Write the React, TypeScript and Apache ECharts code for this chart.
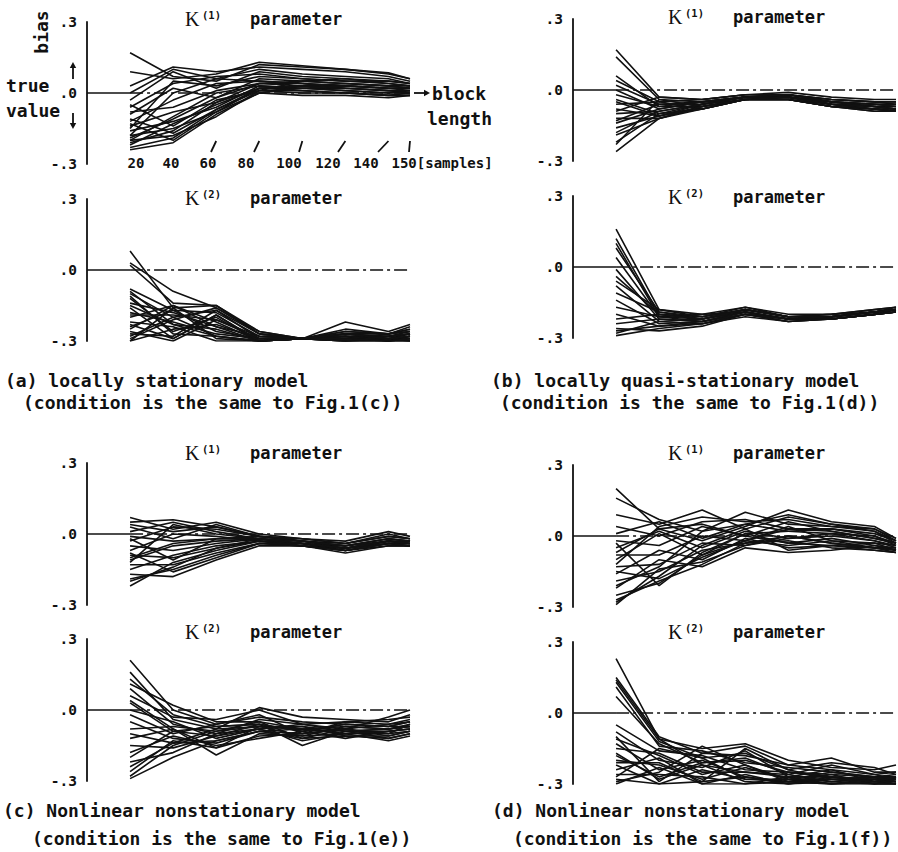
import React, { useEffect, useRef } from "react";
import * as echarts from "echarts";

// block length [samples]
const X_VALUES = [20, 40, 60, 80, 100, 120, 140, 150];
const X_TICK_LABELS = ["20", "40", "60", "80", "100", "120", "140", "150[samples]"];
const Y_TICKS = [-0.3, 0, 0.3];
const Y_TICK_LABELS = ["-.3", ".0", ".3"];

// (a) locally stationary model, K(1)
const A1_LINES = [
  [.17, .07, .05, .12, .11, .10, .08, .06],
  [.09, .06, .08, .13, .115, .10, .085, .06],
  [.03, .11, .09, .11, .10, .09, .07, .05],
  [.00, .10, .06, .10, .08, .07, .06, .04],
  [-.03, .09, .02, .09, .07, .06, .05, .04],
  [-.06, .04, .07, .08, .06, .05, .04, .03],
  [-.09, .02, -.02, .06, .05, .04, .03, .03],
  [-.12, -.03, .04, .05, .04, .03, .02, .02],
  [-.14, -.08, -.04, .04, .03, .03, .02, .01],
  [-.16, -.12, -.06, .03, .02, .02, .01, .01],
  [-.18, -.15, -.08, .02, .02, .01, .00, .00],
  [-.20, -.18, -.10, .01, .01, .00, -.01, .00],
  [-.22, -.13, -.05, .02, .01, .00, -.01, -.01],
  [-.24, -.21, -.09, .00, -.01, -.01, -.02, -.01],
  [-.20, -.10, .00, .03, .02, .01, .00, .01],
  [-.11, -.17, -.07, .02, .03, .04, .03, .02],
  [-.05, -.14, -.03, .01, .05, .06, .04, .03],
  [-.15, .05, .03, .07, .06, .05, .05, .04],
  [-.08, -.06, .01, .04, .04, .03, .02, .02],
  [-.18, .00, .06, .05, .04, .02, .01, .00],
  [-.21, -.16, -.04, .02, .03, .02, .01, .01],
  [-.23, -.19, -.07, .01, .00, .00, -.01, -.01],
  [-.13, -.20, -.08, .00, .02, .03, .02, .02],
  [-.19, -.11, -.02, .04, .05, .04, .03, .02],
];

// (a) K(2)
const A2_LINES = [
  [.08, -.16, -.15, -.26, -.29, -.22, -.26, -.23],
  [.03, -.09, -.16, -.27, -.29, -.25, -.27, -.24],
  [.02, -.14, -.15, -.27, -.29, -.26, -.27, -.25],
  [-.08, -.17, -.18, -.28, -.29, -.27, -.28, -.26],
  [-.10, -.20, -.17, -.29, -.29, -.28, -.28, -.27],
  [-.12, -.26, -.20, -.30, -.29, -.27, -.29, -.28],
  [-.14, -.18, -.24, -.30, -.29, -.28, -.30, -.29],
  [-.16, -.29, -.19, -.30, -.29, -.29, -.30, -.28],
  [-.18, -.22, -.27, -.29, -.29, -.30, -.29, -.30],
  [-.20, -.15, -.22, -.30, -.29, -.29, -.28, -.29],
  [-.22, -.24, -.30, -.30, -.29, -.30, -.29, -.27],
  [-.24, -.17, -.26, -.29, -.29, -.28, -.30, -.30],
  [-.26, -.30, -.21, -.28, -.29, -.29, -.27, -.26],
  [-.28, -.20, -.28, -.30, -.29, -.30, -.30, -.28],
  [-.30, -.25, -.23, -.29, -.29, -.28, -.29, -.30],
  [-.30, -.16, -.29, -.30, -.29, -.29, -.28, -.27],
  [-.27, -.28, -.17, -.27, -.29, -.27, -.27, -.25],
  [-.09, -.23, -.25, -.30, -.29, -.30, -.30, -.29],
  [-.11, -.27, -.28, -.30, -.29, -.29, -.29, -.28],
  [-.19, -.19, -.21, -.29, -.29, -.28, -.30, -.29],
  [-.23, -.29, -.19, -.30, -.29, -.30, -.28, -.27],
  [-.29, -.21, -.16, -.26, -.29, -.26, -.27, -.26],
  [-.15, -.23, -.28, -.30, -.29, -.29, -.30, -.30],
  [-.25, -.15, -.24, -.28, -.29, -.27, -.29, -.28],
];

// (b) locally quasi-stationary model, K(1)
const B1_LINES = [
  [.17, -.03, -.04, -.02, -.01, -.03, -.04, -.04],
  [.14, -.04, -.05, -.03, -.02, -.04, -.05, -.05],
  [.04, -.05, -.04, -.02, -.02, -.04, -.05, -.05],
  [.02, -.06, -.06, -.03, -.02, -.05, -.06, -.06],
  [.00, -.08, -.05, -.03, -.03, -.05, -.06, -.07],
  [-.02, -.07, -.07, -.04, -.03, -.06, -.07, -.07],
  [-.04, -.10, -.06, -.03, -.03, -.06, -.07, -.08],
  [-.06, -.05, -.08, -.04, -.04, -.07, -.08, -.08],
  [-.08, -.11, -.07, -.04, -.04, -.07, -.08, -.09],
  [-.10, -.09, -.06, -.03, -.03, -.06, -.08, -.09],
  [-.12, -.12, -.07, -.04, -.04, -.07, -.09, -.09],
  [-.14, -.08, -.05, -.03, -.03, -.05, -.07, -.07],
  [-.16, -.11, -.06, -.04, -.04, -.06, -.08, -.08],
  [-.19, -.12, -.07, -.04, -.03, -.06, -.07, -.08],
  [-.22, -.10, -.08, -.04, -.04, -.07, -.08, -.09],
  [-.26, -.12, -.08, -.04, -.03, -.06, -.08, -.09],
  [-.09, -.03, -.04, -.02, -.02, -.04, -.05, -.06],
  [-.13, -.06, -.05, -.03, -.02, -.05, -.06, -.06],
  [-.18, -.09, -.06, -.03, -.03, -.05, -.06, -.07],
  [-.05, -.11, -.08, -.04, -.04, -.07, -.09, -.09],
  [.06, -.07, -.05, -.03, -.02, -.05, -.07, -.08],
  [-.23, -.04, -.07, -.04, -.03, -.06, -.07, -.08],
];

// (b) K(2)
const B2_LINES = [
  [.16, -.18, -.20, -.17, -.20, -.20, -.18, -.17],
  [.12, -.20, -.21, -.18, -.21, -.21, -.19, -.18],
  [.08, -.19, -.22, -.18, -.21, -.20, -.18, -.17],
  [.04, -.21, -.20, -.19, -.22, -.21, -.19, -.18],
  [-.01, -.22, -.23, -.19, -.22, -.22, -.20, -.18],
  [-.04, -.20, -.22, -.18, -.21, -.21, -.19, -.18],
  [-.08, -.23, -.24, -.20, -.22, -.22, -.20, -.19],
  [-.11, -.19, -.21, -.18, -.21, -.21, -.19, -.18],
  [-.14, -.24, -.23, -.20, -.23, -.22, -.20, -.19],
  [-.17, -.21, -.22, -.19, -.22, -.21, -.19, -.18],
  [-.20, -.25, -.24, -.21, -.23, -.22, -.20, -.19],
  [-.24, -.22, -.23, -.19, -.22, -.21, -.19, -.18],
  [-.26, -.27, -.25, -.20, -.23, -.22, -.20, -.19],
  [-.28, -.23, -.22, -.19, -.22, -.21, -.19, -.18],
  [-.29, -.26, -.24, -.20, -.22, -.22, -.20, -.19],
  [-.06, -.18, -.21, -.17, -.21, -.20, -.19, -.17],
  [-.22, -.20, -.22, -.18, -.21, -.21, -.19, -.18],
  [.10, -.21, -.23, -.19, -.22, -.21, -.19, -.18],
  [-.27, -.25, -.23, -.20, -.22, -.22, -.20, -.19],
];

// (c) Nonlinear nonstationary model (Fig.1(e)), K(1)
const C1_LINES = [
  [.07, .02, .05, .00, -.02, -.03, .01, -.01],
  [.05, .06, .03, -.01, -.02, -.04, .00, -.02],
  [.03, -.02, .04, -.01, -.03, -.04, -.01, -.02],
  [.01, .05, .01, -.02, -.03, -.05, -.02, -.03],
  [-.01, -.03, -.02, -.02, -.04, -.05, -.02, -.03],
  [-.03, .03, .02, -.01, -.03, -.06, -.03, -.04],
  [-.05, -.07, -.04, -.02, -.04, -.06, -.03, -.04],
  [-.07, .00, -.01, -.03, -.04, -.07, -.04, -.04],
  [-.09, -.10, -.06, -.03, -.05, -.06, -.04, -.05],
  [-.11, -.05, -.03, -.02, -.04, -.07, -.04, -.04],
  [-.13, -.13, -.08, -.04, -.05, -.07, -.05, -.05],
  [-.15, -.09, -.05, -.03, -.04, -.06, -.03, -.04],
  [-.17, -.18, -.11, -.05, -.05, -.08, -.05, -.05],
  [-.19, -.15, -.09, -.04, -.05, -.07, -.04, -.04],
  [-.22, -.12, -.07, -.03, -.04, -.06, -.03, -.03],
  [-.02, -.11, -.02, -.01, -.03, -.05, -.02, -.03],
  [-.12, .04, .00, -.02, -.03, -.05, -.03, -.04],
  [-.08, -.16, -.10, -.04, -.04, -.06, -.04, -.05],
  [-.20, -.14, -.06, -.02, -.05, -.07, -.04, -.05],
  [.04, .01, .03, -.01, -.02, -.04, -.01, -.02],
  [-.10, -.04, -.02, -.02, -.04, -.06, -.03, -.04],
];

// (c) K(2)
const C2_LINES = [
  [.21, .00, -.06, -.03, -.05, -.06, -.07, -.05],
  [.16, -.04, -.08, .01, -.03, -.04, -.05, -.02],
  [.11, .02, -.05, -.05, -.08, -.07, -.08, -.06],
  [.09, -.06, -.10, -.04, -.06, -.05, -.06, -.04],
  [.06, -.03, -.04, .00, -.06, -.08, -.03, .00],
  [.03, -.09, -.07, -.06, -.09, -.06, -.07, -.07],
  [.00, -.05, -.12, -.08, -.07, -.09, -.09, -.08],
  [-.02, -.10, -.06, -.02, -.10, -.05, -.04, -.03],
  [-.05, -.12, -.14, -.09, -.08, -.10, -.10, -.09],
  [-.08, -.07, -.09, -.05, -.12, -.08, -.06, -.05],
  [-.10, -.14, -.08, -.07, -.07, -.11, -.11, -.09],
  [-.12, -.08, -.19, -.10, -.11, -.07, -.08, -.07],
  [-.15, -.16, -.11, -.06, -.15, -.09, -.12, -.10],
  [-.18, -.11, -.15, -.12, -.09, -.12, -.09, -.08],
  [-.22, -.18, -.10, -.08, -.13, -.10, -.13, -.11],
  [-.26, -.13, -.16, -.11, -.10, -.08, -.10, -.06],
  [-.29, -.20, -.13, -.09, -.12, -.11, -.12, -.10],
  [-.28, -.15, -.09, -.07, -.08, -.09, -.08, -.07],
  [.13, -.02, -.07, -.06, -.09, -.06, -.07, -.05],
  [-.20, -.09, -.11, -.08, -.06, -.09, -.08, -.07],
  [-.24, -.14, -.13, -.09, -.10, -.08, -.11, -.09],
  [.04, -.08, -.16, -.07, -.11, -.10, -.09, -.08],
];

// (d) Nonlinear nonstationary model (Fig.1(f)), K(1)
const D1_LINES = [
  [.20, .03, -.02, .04, .11, .06, .04, -.01],
  [.16, .07, .02, .10, .05, .04, .03, -.02],
  [.09, .05, .11, .03, .08, .05, .02, -.03],
  [.04, .00, .06, .07, .03, .03, .01, -.02],
  [.01, .06, -.01, .05, .02, .01, .00, -.04],
  [-.02, -.04, .04, .00, .06, .02, -.01, -.03],
  [-.05, .02, -.05, .02, -.01, .00, -.02, -.05],
  [-.08, -.08, .00, -.02, .04, -.02, -.03, -.04],
  [-.10, .01, -.08, .01, -.03, -.01, -.04, -.06],
  [-.13, -.12, -.03, -.04, .00, -.03, -.05, -.05],
  [-.16, -.06, -.10, -.01, -.05, -.04, -.03, -.06],
  [-.19, -.15, -.06, -.03, -.02, -.05, -.06, -.07],
  [-.22, -.10, -.13, -.05, -.07, -.06, -.04, -.05],
  [-.25, -.20, -.08, -.02, -.04, -.02, -.05, -.06],
  [-.28, -.17, -.04, .03, -.06, -.04, -.06, -.07],
  [-.29, -.14, -.11, -.04, -.01, .01, -.02, -.04],
  [-.03, -.21, -.07, .01, .02, .03, .00, -.03],
  [-.12, .04, .08, .06, .07, .04, .02, -.02],
  [-.27, -.19, -.12, -.03, .00, -.03, -.05, -.06],
  [-.21, -.13, .02, .05, .09, .05, .03, -.01],
  [-.15, -.18, -.09, -.02, .03, .02, -.01, -.03],
  [-.07, .03, .05, .00, -.03, -.04, -.05, -.07],
];

// (d) K(2)
const D2_LINES = [
  [.23, -.11, -.15, -.13, -.20, -.23, -.24, -.22],
  [.15, -.10, -.17, -.14, -.22, -.19, -.25, -.25],
  [.13, -.12, -.19, -.17, -.24, -.21, -.23, -.26],
  [.11, -.14, -.16, -.21, -.23, -.25, -.27, -.27],
  [.07, -.13, -.21, -.19, -.26, -.22, -.26, -.28],
  [-.05, -.16, -.18, -.24, -.25, -.27, -.28, -.27],
  [-.08, -.20, -.23, -.16, -.27, -.24, -.29, -.29],
  [-.11, -.18, -.26, -.22, -.28, -.28, -.27, -.28],
  [-.13, -.24, -.20, -.27, -.29, -.26, -.30, -.30],
  [-.15, -.17, -.25, -.25, -.26, -.29, -.28, -.29],
  [-.17, -.28, -.22, -.29, -.30, -.27, -.29, -.30],
  [-.20, -.22, -.28, -.23, -.28, -.30, -.30, -.28],
  [-.22, -.30, -.24, -.28, -.29, -.28, -.28, -.27],
  [-.24, -.19, -.30, -.26, -.30, -.29, -.30, -.30],
  [-.26, -.26, -.27, -.30, -.27, -.30, -.29, -.29],
  [-.28, -.30, -.29, -.27, -.30, -.28, -.30, -.30],
  [-.30, -.23, -.30, -.30, -.29, -.30, -.29, -.28],
  [-.18, -.27, -.21, -.20, -.25, -.26, -.27, -.26],
  [.14, -.11, -.22, -.25, -.27, -.27, -.28, -.28],
  [-.10, -.29, -.17, -.18, -.22, -.24, -.26, -.25],
  [-.27, -.15, -.19, -.28, -.28, -.25, -.27, -.29],
  [-.21, -.21, -.29, -.15, -.24, -.28, -.29, -.27],
  [-.29, -.25, -.14, -.22, -.29, -.30, -.28, -.30],
];

const CAPTIONS = [
  ["(a) locally stationary model", "(condition is the same to Fig.1(c))"],
  ["(b) locally quasi-stationary model", "(condition is the same to Fig.1(d))"],
  ["(c) Nonlinear nonstationary model", "(condition is the same to Fig.1(e))"],
  ["(d) Nonlinear nonstationary model", "(condition is the same to Fig.1(f))"],
];

// ---- layout (pixels) ----
const MONO = "'DejaVu Sans Mono', monospace";
const SERIF = "'Liberation Serif', 'DejaVu Serif', serif";
const INK = "#111";
const X_MIN = 0;
const X_MAX = 150;
const GRID_W = 323;
const HALF_H = 71;

const PANELS = [
  { lines: A1_LINES, left: 87, zero: 93, ty: 19, kx: 185, sup: "(1)" },
  { lines: A2_LINES, left: 87, zero: 270, ty: 198, kx: 185, sup: "(2)" },
  { lines: B1_LINES, left: 573, zero: 90, ty: 17, kx: 668, sup: "(1)" },
  { lines: B2_LINES, left: 573, zero: 267, ty: 197, kx: 668, sup: "(2)" },
  { lines: C1_LINES, left: 87, zero: 534, ty: 453, kx: 185, sup: "(1)" },
  { lines: C2_LINES, left: 87, zero: 710, ty: 632, kx: 185, sup: "(2)" },
  { lines: D1_LINES, left: 573, zero: 536, ty: 453, kx: 668, sup: "(1)" },
  { lines: D2_LINES, left: 573, zero: 713, ty: 632, kx: 668, sup: "(2)" },
];

const CAPTION_POS = [
  [[5, 380], [23, 402]],
  [[491, 380], [500, 402]],
  [[3, 810], [32, 838]],
  [[492, 810], [513, 838]],
];

const X_LABEL_CENTERS = [136, 171, 208, 246, 289, 328, 366, 404];
const MARK_BOTTOMS = [0, 0, 211, 254, 299, 338, 378, 409];

function txt(text: string, x: number, y: number, opts: any = {}) {
  const align = opts.align || "left";
  const v = opts.valign || "middle";
  return {
    type: "text",
    x,
    y,
    rotation: opts.rotation || 0,
    silent: true,
    style: {
      text,
      fill: INK,
      fontFamily: opts.family || MONO,
      fontSize: opts.size || 18,
      fontWeight: opts.weight || "bold",
      align,
      textAlign: align,
      verticalAlign: v,
      textVerticalAlign: v,
    },
  };
}

function arrow(x1: number, y1: number, x2: number, y2: number) {
  const dx = x2 - x1;
  const dy = y2 - y1;
  const len = Math.sqrt(dx * dx + dy * dy);
  const ux = dx / len;
  const uy = dy / len;
  const hl = 6;
  const hw = 3.2;
  const bx = x2 - ux * hl;
  const by = y2 - uy * hl;
  return [
    {
      type: "line",
      silent: true,
      shape: { x1, y1, x2: bx, y2: by },
      style: { stroke: INK, lineWidth: 1.8 },
    },
    {
      type: "polygon",
      silent: true,
      shape: {
        points: [
          [x2, y2],
          [bx - uy * hw, by + ux * hw],
          [bx + uy * hw, by - ux * hw],
        ],
      },
      style: { fill: INK },
    },
  ];
}

export default function App() {
  const ref = useRef<HTMLDivElement>(null);

  useEffect(() => {
    if (!ref.current) return;
    const chart = echarts.init(ref.current, undefined, { renderer: "svg" });

    const grid: any[] = [];
    const xAxis: any[] = [];
    const yAxis: any[] = [];
    const series: any[] = [];
    const graphic: any[] = [];

    PANELS.forEach((p, i) => {
      grid.push({ left: p.left, top: p.zero - HALF_H, width: GRID_W, height: HALF_H * 2 });
      xAxis.push({ type: "value", gridIndex: i, min: X_MIN, max: X_MAX, show: false });
      yAxis.push({
        type: "value",
        gridIndex: i,
        min: -0.3,
        max: 0.3,
        interval: 0.3,
        axisLine: { show: true, lineStyle: { color: INK, width: 1.8 } },
        axisTick: { show: false },
        splitLine: { show: false },
        axisLabel: {
          margin: 10,
          color: INK,
          fontFamily: MONO,
          fontSize: 14.5,
          fontWeight: "bold",
          formatter: (v: number) => {
            const k = Y_TICKS.findIndex((t) => Math.abs(t - v) < 1e-6);
            return k >= 0 ? Y_TICK_LABELS[k] : "";
          },
        },
      });
      // true value line
      series.push({
        type: "line",
        xAxisIndex: i,
        yAxisIndex: i,
        data: [[X_MIN, 0], [X_VALUES[0], 0]],
        symbol: "none",
        silent: true,
        z: 1,
        lineStyle: { color: INK, width: 1.7 },
      });
      series.push({
        type: "line",
        xAxisIndex: i,
        yAxisIndex: i,
        data: [[X_VALUES[0], 0], [X_MAX, 0]],
        symbol: "none",
        silent: true,
        z: 1,
        lineStyle: { color: INK, width: 1.7, type: [13, 4, 3, 4] },
      });
      p.lines.forEach((line) => {
        series.push({
          type: "line",
          xAxisIndex: i,
          yAxisIndex: i,
          data: X_VALUES.map((x, j) => [x, line[j]]),
          symbol: "none",
          silent: true,
          z: 2,
          lineStyle: { color: INK, width: 1.6 },
        });
      });
      // title
      graphic.push(txt("K", p.kx, p.ty, { family: SERIF, size: 20, weight: "normal" }));
      graphic.push(txt(p.sup, p.kx + 17, p.ty - 4, { size: 10.5 }));
      graphic.push(txt("parameter", p.kx + 65, p.ty, { size: 17 }));
    });

    // captions
    CAPTIONS.forEach((c, i) => {
      c.forEach((line, j) => {
        const [x, y] = CAPTION_POS[i][j];
        graphic.push(txt(line, x, y, { size: 18 }));
      });
    });

    // annotations of panel (a) K(1)
    graphic.push(txt("bias", 41, 32, { rotation: Math.PI / 2, align: "center" }));
    graphic.push(...arrow(73, 79, 73, 62));
    graphic.push(txt("true", 6, 85));
    graphic.push(txt("value", 6, 110));
    graphic.push(...arrow(73, 113, 73, 129));
    graphic.push(...arrow(414, 93, 430, 93));
    graphic.push(txt("block", 432, 93));
    graphic.push(txt("length", 427, 118));

    // x tick labels with pointer marks
    const toPx = (v: number) => PANELS[0].left + ((v - X_MIN) / (X_MAX - X_MIN)) * GRID_W;
    X_TICK_LABELS.forEach((lab, k) => {
      const last = k === X_TICK_LABELS.length - 1;
      const cx = X_LABEL_CENTERS[k];
      graphic.push(
        txt(lab, last ? cx - 12.5 : cx, 163, { size: 14, align: last ? "left" : "center" })
      );
      if (MARK_BOTTOMS[k]) {
        graphic.push({
          type: "line",
          silent: true,
          shape: { x1: toPx(X_VALUES[k]), y1: 141, x2: MARK_BOTTOMS[k], y2: 152 },
          style: { stroke: INK, lineWidth: 1.8 },
        });
      }
    });

    chart.setOption({
      animation: false,
      backgroundColor: "#fff",
      grid,
      xAxis,
      yAxis,
      series,
      graphic,
    });

    return () => chart.dispose();
  }, []);

  return (
    <div
      ref={ref}
      style={{ position: "absolute", left: 0, top: 0, width: 898, height: 852, background: "#fff" }}
    />
  );
}
